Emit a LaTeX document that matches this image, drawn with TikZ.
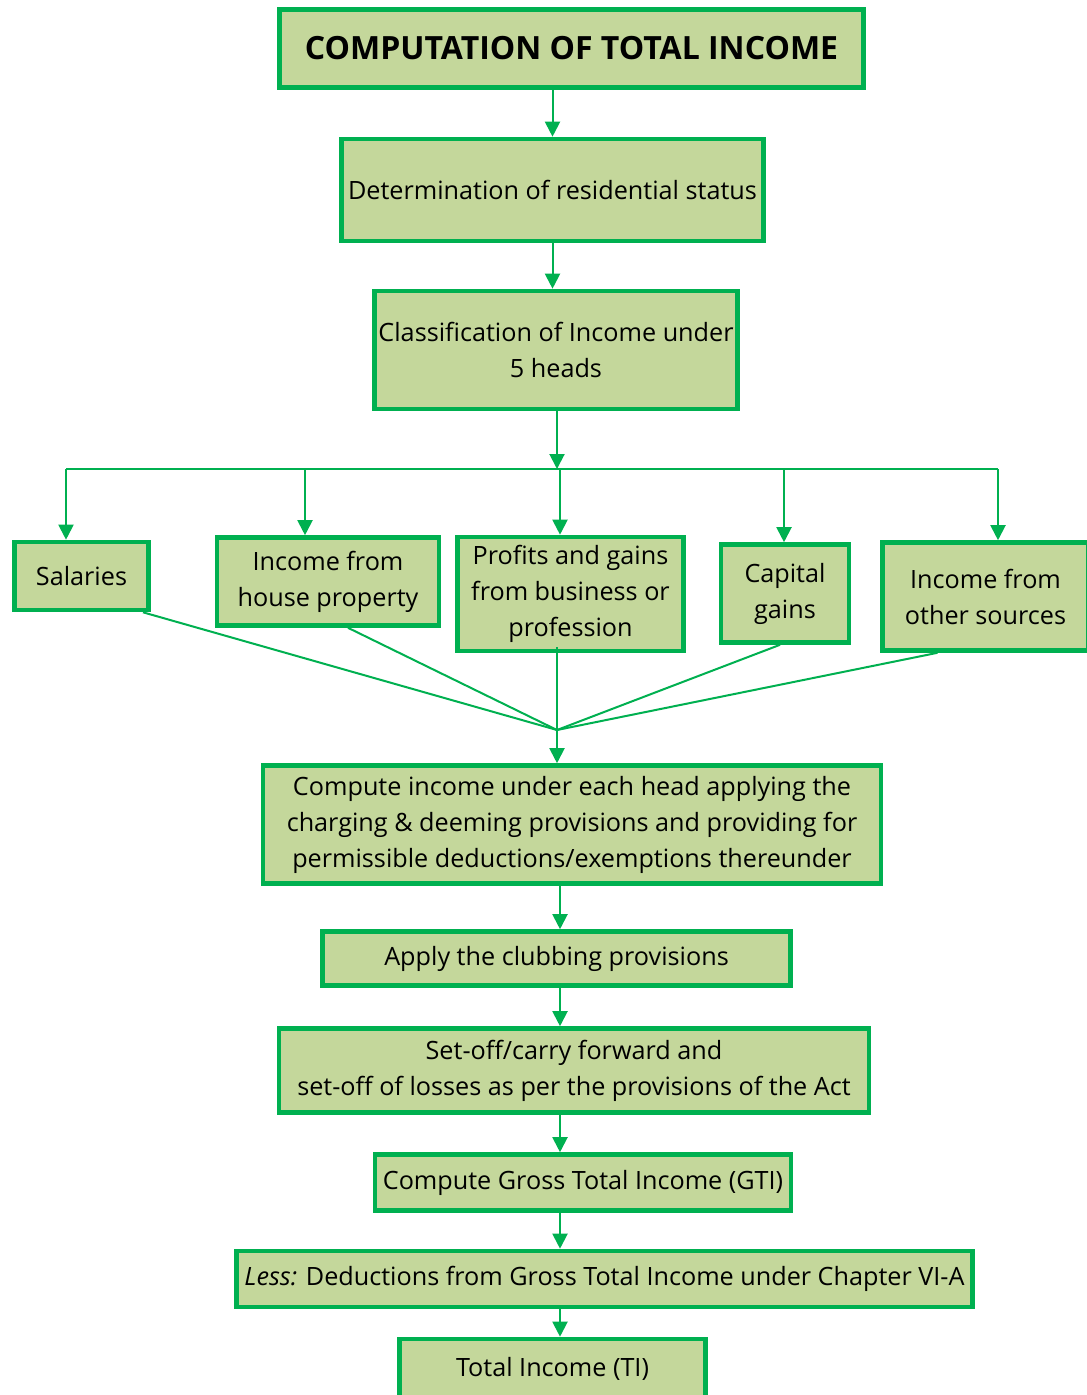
\documentclass[tikz,border=0pt]{standalone}
\usepackage{fontspec}
\setmainfont{Open Sans}
\usepackage{tikz}
\usetikzlibrary{arrows.meta}

\definecolor{boxfill}{HTML}{C4D79B}
\definecolor{boxline}{HTML}{00B050}

\begin{document}
\begin{tikzpicture}[x=0.5pt,y=-0.5pt]
    \tikzset{box/.style = {shape=rectangle,draw=boxline,fill=boxfill,line width=2.3pt,align=center,inner sep=2pt,font=\fontsize{12.6}{18}\selectfont}}
    \tikzset{titlebox/.style = {box,font=\fontsize{16}{19}\selectfont\bfseries}}
    \tikzset{edge/.style = {draw=boxline,line width=1pt}}
    \tikzset{arrow/.style = {edge,-{Triangle[width=7.5pt,length=7.5pt]}}}

    \useasboundingbox (0,0) rectangle (1086,1395);

    % boxes

    \node[titlebox,minimum width=292pt,minimum height=39pt] (title) at (571.5,48.5) {COMPUTATION OF TOTAL INCOME};
    \node[box,minimum width=211pt,minimum height=51pt] (det) at (552.5,190) {Determination of residential status};
    \node[box,minimum width=180pt,minimum height=59pt] (cls) at (556,350) {Classification of Income under\\5 heads};

    \node[box,minimum width=67pt,minimum height=34pt] (sal) at (81.5,576) {Salaries};
    \node[box,minimum width=111pt,minimum height=44pt] (hp) at (328,581.5) {Income from\\house property};
    \node[box,minimum width=113pt,minimum height=57pt] (pgbp) at (570.5,594) {Profits and gains\\from business or\\profession};
    \node[box,minimum width=64pt,minimum height=49pt] (cg) at (785,593.5) {Capital\\gains};
    \node[box,minimum width=103pt,minimum height=54pt] (os) at (985.5,596.5) {Income from\\other sources};

    \node[box,minimum width=309pt,minimum height=59pt] (comp) at (572,824.5) {Compute income under each head applying the\\charging \& deeming provisions and providing for\\permissible deductions/exemptions thereunder};
    \node[box,minimum width=234pt,minimum height=27pt] (club) at (556.5,958.5) {Apply the clubbing provisions};
    \node[box,minimum width=295pt,minimum height=42pt] (setoff) at (574,1070.5) {Set-off/carry forward and\\set-off of losses as per the provisions of the Act};
    \node[box,minimum width=208pt,minimum height=28pt] (gti) at (583,1182.5) {Compute Gross Total Income (GTI)};
    \node[box,minimum width=368pt,minimum height=28pt] (less) at (604.5,1279) {\textit{Less:} Deductions from Gross Total Income under Chapter VI-A};
    \node[box,minimum width=153pt,minimum height=30pt] (ti) at (552.5,1369) {Total Income (TI)};

    % branch points
    \coordinate (j) at (557,469);
    \coordinate (b1) at (66,469);
    \coordinate (b2) at (305,469);
    \coordinate (b3) at (560,469);
    \coordinate (b4) at (784,469);
    \coordinate (b5) at (998,469);
    \coordinate (m) at (557,730);
    \coordinate (c) at (560,0);

    % edges
    \draw[arrow] (title.south -| det.north) to (det.north);
    \draw[arrow] (det.south) to (det.south |- cls.north);
    \draw[arrow] (cls.south -| j) to (j);
    \draw[edge] (b1) to (b5);
    \draw[arrow] (b1) to (b1 |- sal.north);
    \draw[arrow] (b2) to (b2 |- hp.north);
    \draw[arrow] (b3) to (b3 |- pgbp.north);
    \draw[arrow] (b4) to (b4 |- cg.north);
    \draw[arrow] (b5) to (b5 |- os.north);

    \draw[edge] ([xshift=30.75pt]sal.south) to (m);
    \draw[edge] ([xshift=10pt]hp.south) to (m);
    \draw[edge] ([yshift=3pt]pgbp.south -| m) to (m);
    \draw[edge] ([xshift=-2.5pt]cg.south) to (m);
    \draw[edge] ([xshift=-24pt]os.south) to (m);
    \draw[arrow] (m) to (m |- comp.north);

    \draw[arrow] (comp.south -| c) to (club.north -| c);
    \draw[arrow] (club.south -| c) to (setoff.north -| c);
    \draw[arrow] (setoff.south -| c) to (gti.north -| c);
    \draw[arrow] (gti.south -| c) to (less.north -| c);
    \draw[arrow] (less.south -| c) to (ti.north -| c);
\end{tikzpicture}
\end{document}
